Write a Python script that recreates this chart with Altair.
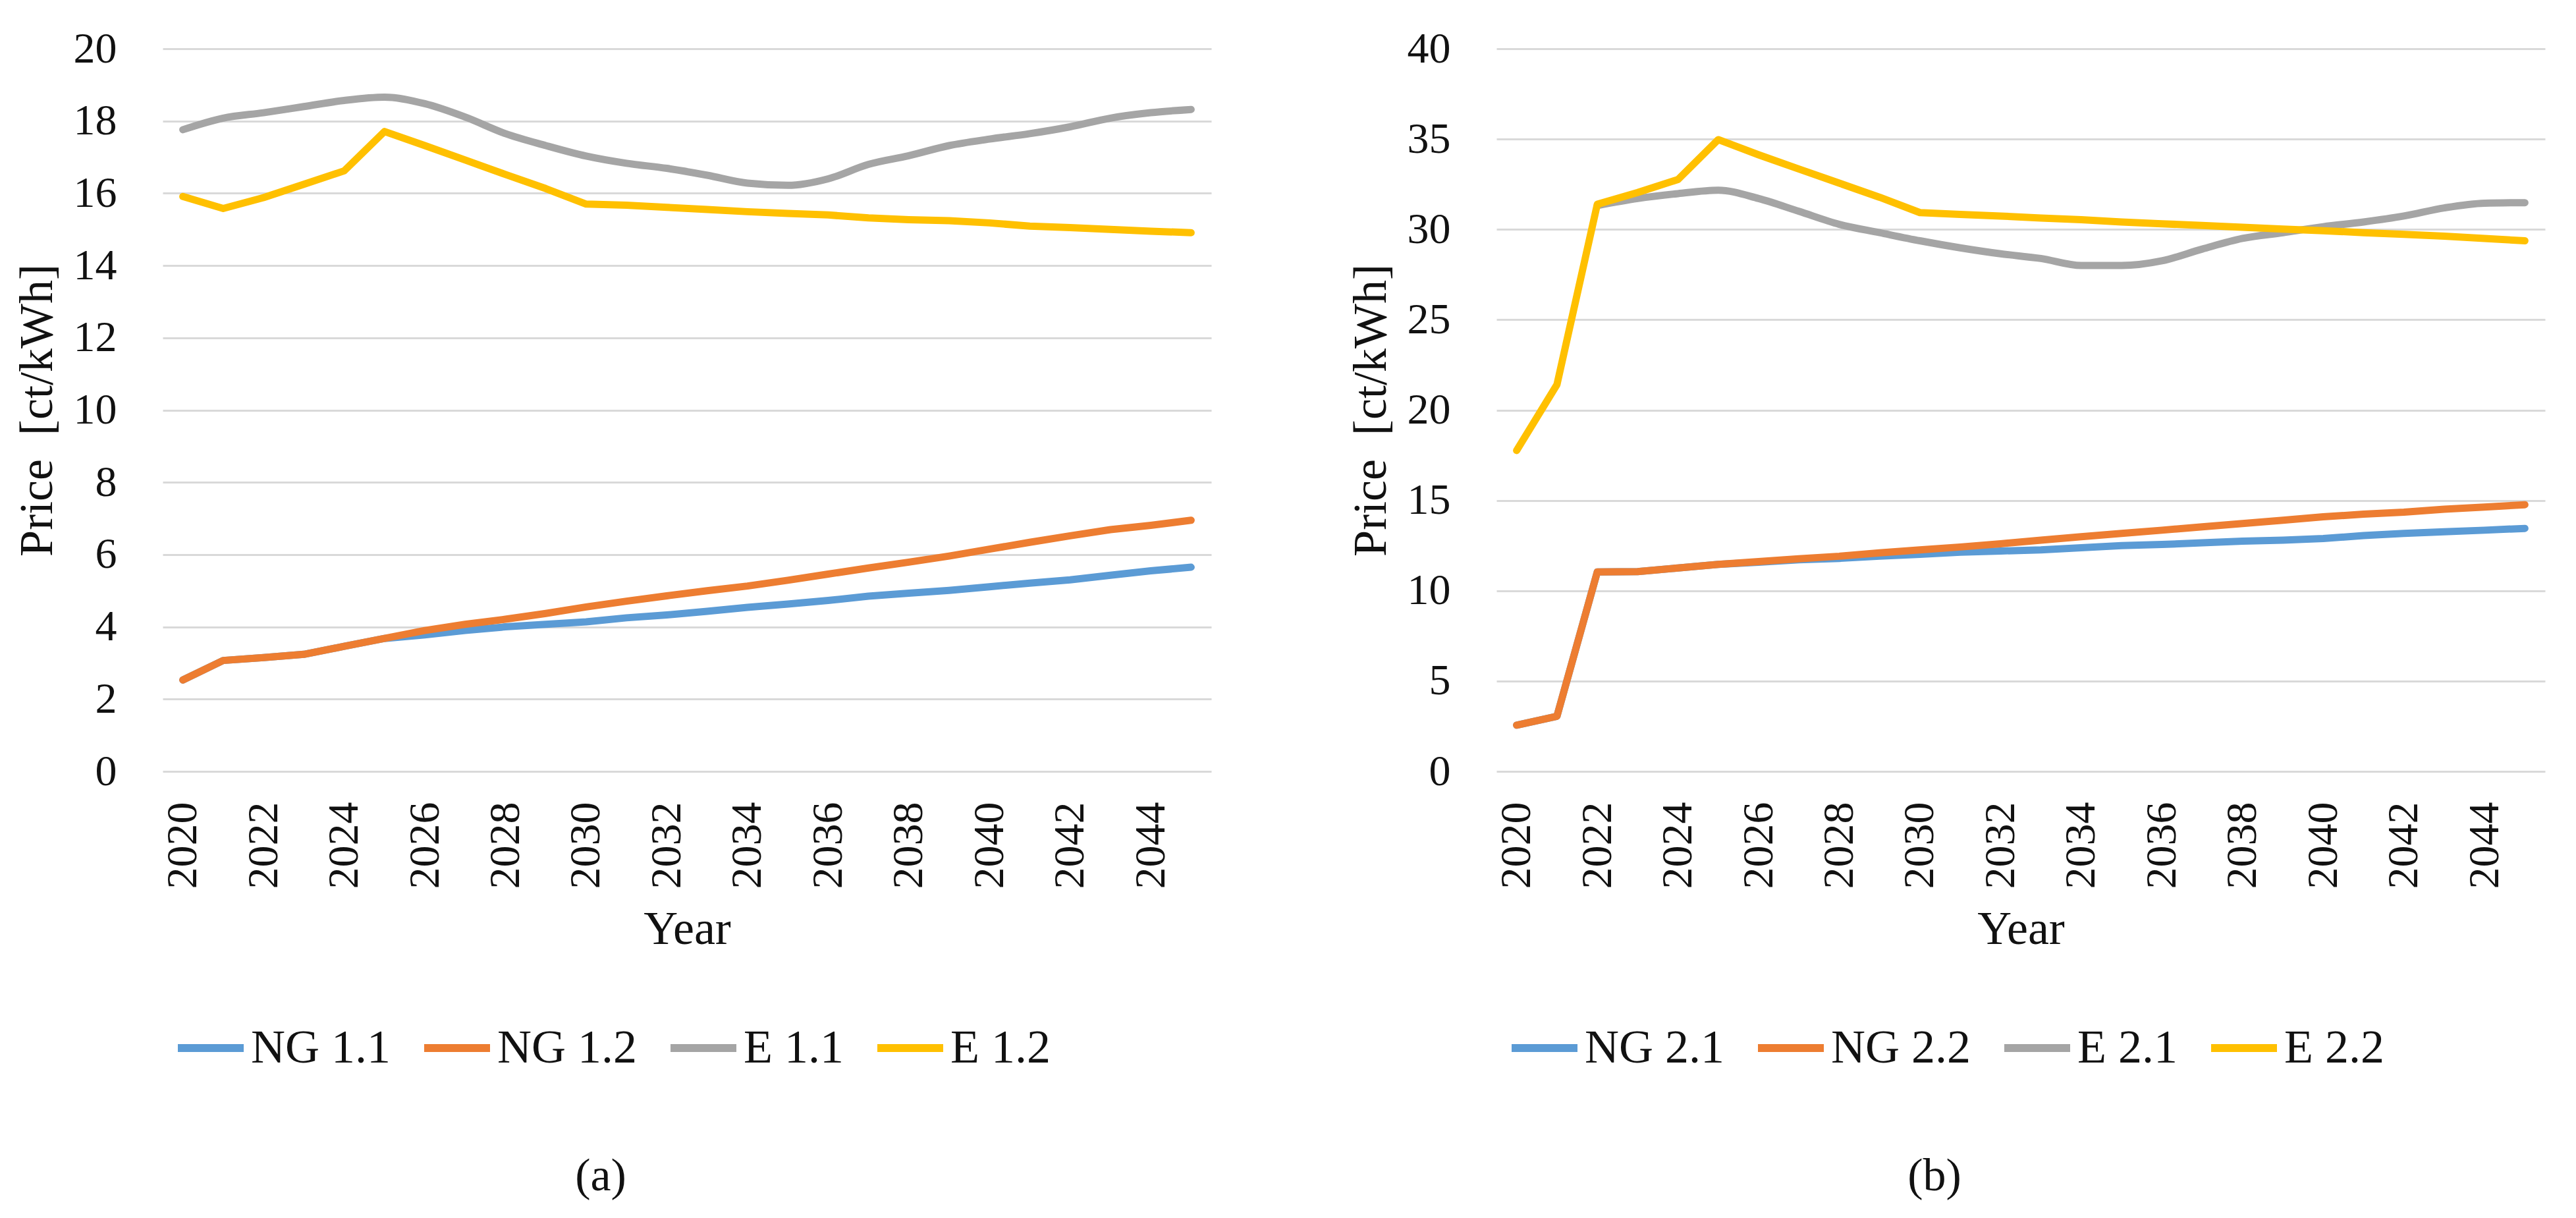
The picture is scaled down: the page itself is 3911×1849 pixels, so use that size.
import altair as alt
import pandas as pd

years = list(range(2020, 2046))
tick_years = [str(y) for y in range(2020, 2046, 2)]

# Panel (a)
names_a = ["NG 1.1", "NG 1.2", "E 1.1", "E 1.2"]
ng11 = [2.53, 3.07, 3.15, 3.24, 3.46, 3.68, 3.78, 3.90, 4.00, 4.07, 4.14, 4.25, 4.33,
        4.43, 4.54, 4.63, 4.73, 4.85, 4.93, 5.01, 5.11, 5.21, 5.30, 5.43, 5.55, 5.65]
ng12 = [2.53, 3.07, 3.15, 3.24, 3.46, 3.68, 3.90, 4.07, 4.21, 4.37, 4.55, 4.71, 4.86,
        5.00, 5.13, 5.29, 5.46, 5.63, 5.79, 5.96, 6.15, 6.34, 6.52, 6.69, 6.81, 6.95]
e11 = [17.76, 18.08, 18.23, 18.40, 18.57, 18.66, 18.48, 18.11, 17.65, 17.32, 17.03, 16.83, 16.69,
       16.50, 16.28, 16.22, 16.40, 16.80, 17.04, 17.32, 17.50, 17.65, 17.84, 18.08, 18.23, 18.32]
e12 = [15.91, 15.58, 15.88, 16.25, 16.62, 17.71, 17.32, 16.92, 16.52, 16.13, 15.70, 15.67, 15.61,
       15.55, 15.49, 15.44, 15.40, 15.32, 15.27, 15.24, 15.18, 15.09, 15.05, 15.00, 14.95, 14.91]

# Panel (b)  (E 2.1 is hidden under E 2.2 before 2022)
names_b = ["NG 2.1", "NG 2.2", "E 2.1", "E 2.2"]
ng21 = [2.56, 3.05, 11.04, 11.06, 11.26, 11.46, 11.58, 11.71, 11.79, 11.91, 12.01, 12.13, 12.20,
        12.26, 12.38, 12.50, 12.56, 12.65, 12.74, 12.80, 12.89, 13.05, 13.17, 13.26, 13.35, 13.45]
ng22 = [2.56, 3.05, 11.04, 11.06, 11.26, 11.46, 11.61, 11.77, 11.91, 12.10, 12.26, 12.42, 12.60,
        12.80, 12.99, 13.17, 13.35, 13.54, 13.72, 13.90, 14.09, 14.24, 14.35, 14.51, 14.63, 14.76]
e21 = [None, None, 31.32, 31.71, 31.98, 32.17, 31.71, 31.00, 30.28, 29.82, 29.37, 28.98, 28.65,
       28.39, 28.00, 28.00, 28.26, 28.91, 29.50, 29.82, 30.15, 30.41, 30.74, 31.19, 31.45, 31.48]
e22 = [17.76, 21.41, 31.39, 32.04, 32.76, 34.97, 34.13, 33.34, 32.56, 31.78, 30.93, 30.83, 30.74,
       30.63, 30.54, 30.41, 30.31, 30.22, 30.12, 30.02, 29.93, 29.82, 29.73, 29.63, 29.50, 29.37]

colors = ["#5B9BD5", "#ED7D31", "#A5A5A5", "#FFC000"]
FONT = "Liberation Serif"
TXT = "#111111"
PW, PH = 1592, 1097


def panel(names, series, ymax, ystep, caption):
    rows = []
    for k, (name, vals) in enumerate(zip(names, series)):
        for yr, v in zip(years, vals):
            if v is not None:
                rows.append({"Year": str(yr), "Series": name, "Price": v, "k": k})
    df = pd.DataFrame(rows)

    x = alt.X("Year:O", title="Year",
              scale=alt.Scale(type="point", padding=0.5, domain=[str(y) for y in years]),
              axis=alt.Axis(values=tick_years, labelAngle=-90, labelPadding=46,
                            titlePadding=26, grid=False, domain=False, ticks=False))
    y = alt.Y("Price:Q", title="Price\u00a0\u00a0[ct/kWh]",
              scale=alt.Scale(domain=[0, ymax], nice=False),
              axis=alt.Axis(values=list(range(0, ymax + 1, ystep)), labelPadding=70,
                            titlePadding=18, grid=True, domain=False, ticks=False))
    color = alt.Color("Series:N", scale=alt.Scale(domain=names, range=colors),
                      legend=alt.Legend(title=None, orient="none", legendX=17, legendY=1461,
                                        direction="horizontal", symbolType="stroke",
                                        symbolSize=10000, symbolStrokeWidth=12,
                                        labelFontSize=72, labelFont=FONT, labelColor=TXT,
                                        labelOffset=5, columnPadding=27, padding=0,
                                        labelLimit=500))
    base = alt.Chart(df).encode(x=x, y=y, color=color, detail="Series:N")
    style = dict(strokeWidth=11, strokeCap="round", strokeJoin="round")
    ng = base.transform_filter(alt.datum.k < 2).mark_line(**style)
    e1 = base.transform_filter(alt.datum.k == 2).mark_line(interpolate="monotone", **style)
    e2 = base.transform_filter(alt.datum.k == 3).mark_line(**style)
    return alt.layer(ng, e1, e2, title=alt.TitleParams(
        caption, orient="bottom", anchor="middle", dx=-131, offset=125,
        fontSize=70, font=FONT, fontWeight="normal", color=TXT)
    ).properties(width=PW, height=PH)


left = panel(names_a, [ng11, ng12, e11, e12], 20, 2, "(a)")
right = panel(names_b, [ng21, ng22, e21, e22], 40, 5, "(b)")

chart = alt.hconcat(left, right, spacing=206).resolve_scale(
    color="independent"
).properties(
    padding={"left": 12, "top": 33, "right": 5, "bottom": 5}
).configure_view(stroke=None).configure_axis(
    labelFont=FONT, titleFont=FONT, labelFontSize=66, titleFontSize=72,
    labelColor=TXT, titleColor=TXT, titleFontWeight="normal",
    gridColor="#D9D9D9", gridWidth=3,
)

chart.save("out.html", embed_options={"renderer": "svg", "actions": False})
